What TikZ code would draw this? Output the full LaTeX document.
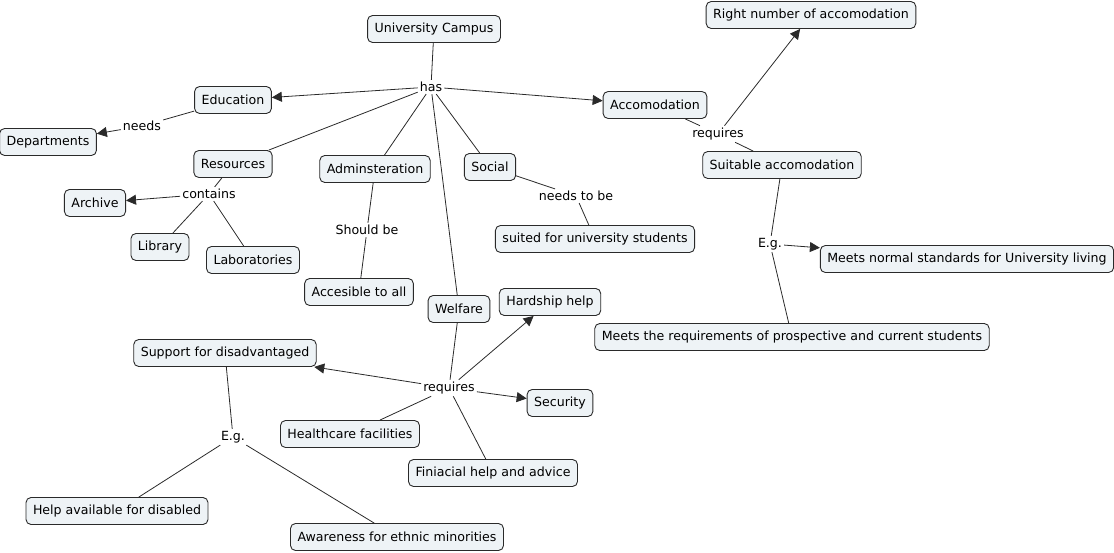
\documentclass[tikz,border=0pt]{standalone}
\usepackage{fontspec}
\setmainfont{DejaVu Sans}
\usetikzlibrary{arrows.meta}
\definecolor{boxfill}{HTML}{EEF3F6}
\definecolor{ink}{HTML}{2A2A2A}
\tikzset{
  concept/.style={draw=ink, fill=boxfill, rounded corners=5pt, line width=0.9pt,
    minimum height=27pt, inner xsep=7pt, inner ysep=2pt, font=\fontsize{12.6}{14}\selectfont, text=black},
  linkword/.style={inner sep=2pt, font=\fontsize{12.6}{14}\selectfont, text=black},
  conn/.style={draw=ink, line width=0.8pt},
  arr/.style={conn, -{Triangle[length=10pt,width=10pt]}}
}
\begin{document}
\begin{tikzpicture}[x=1pt,y=-1pt]
\useasboundingbox (0,0) rectangle (1114,553);
% concepts
\node[concept] (uc) at (434,29) {University Campus};
\node[concept] (edu) at (233,100) {Education};
\node[concept] (dep) at (48,142) {Departments};
\node[concept] (res) at (233,164) {Resources};
\node[concept] (arc) at (95,203) {Archive};
\node[concept] (lib) at (160,247) {Library};
\node[concept] (lab) at (253,260) {Laboratories};
\node[concept] (adm) at (375,169) {Adminsteration};
\node[concept] (acc) at (359,292) {Accesible to all};
\node[concept] (soc) at (490,167) {Social};
\node[concept] (sui) at (595,239) {suited for university students};
\node[concept] (wel) at (459,309) {Welfare};
\node[concept] (hard) at (550,302) {Hardship help};
\node[concept] (sup) at (225,353) {Support for disadvantaged};
\node[concept] (sec) at (560,403) {Security};
\node[concept] (hea) at (350,434) {Healthcare facilities};
\node[concept] (fin) at (493,473) {Finiacial help and advice};
\node[concept] (dis) at (117,511) {Help available for disabled};
\node[concept] (eth) at (397,537) {Awareness for ethnic minorities};
\node[concept] (acm) at (655,105) {Accomodation};
\node[concept] (rn) at (811,15) {Right number of accomodation};
\node[concept] (sa) at (782,165) {Suitable accomodation};
\node[concept] (mn) at (967,259) {Meets normal standards for University living};
\node[concept] (mr) at (792,337) {Meets the requirements of prospective and current students};
% linking words
\node[linkword] (has) at (431,87) {has};
\node[linkword] (needs) at (142,126) {needs};
\node[linkword] (cont) at (209,194) {contains};
\node[linkword] (shb) at (367,230) {Should be};
\node[linkword] (ntb) at (576,196) {needs to be};
\node[linkword] (req) at (449,388) {requires};
\node[linkword] (eg1) at (233,437) {E.g.};
\node[linkword] (req2) at (718,134) {requires};
\node[linkword] (eg2) at (770,244) {E.g.};
% connectors
\draw[conn] (uc) -- (has);
\draw[arr] (has) -- (edu);
\draw[arr] (has) -- (acm);
\draw[conn] (has) -- (res);
\draw[conn] (has) -- (adm);
\draw[conn] (has) -- (soc);
\draw[conn] (has) -- (wel);
\draw[conn] (edu) -- (needs);
\draw[arr] (needs) -- (dep);
\draw[conn] (res) -- (cont);
\draw[arr] (cont) -- (arc);
\draw[conn] (cont) -- (lib);
\draw[conn] (cont) -- (lab);
\draw[conn] (adm) -- (shb);
\draw[conn] (shb) -- (acc);
\draw[conn] (soc) -- (ntb);
\draw[conn] (ntb) -- (sui);
\draw[conn] (wel) -- (req);
\draw[arr] (req) -- (hard);
\draw[arr] (req) -- (sup);
\draw[arr] (req) -- (sec);
\draw[conn] (req) -- (hea);
\draw[conn] (req) -- (fin);
\draw[conn] (sup) -- (eg1);
\draw[conn] (eg1) -- (dis);
\draw[conn] (eg1) -- (eth);
\draw[conn] (acm) -- (req2);
\draw[arr] (req2) -- (rn);
\draw[conn] (req2) -- (sa);
\draw[conn] (sa) -- (eg2);
\draw[arr] (eg2) -- (mn);
\draw[conn] (eg2) -- (mr);
\end{tikzpicture}
\end{document}
